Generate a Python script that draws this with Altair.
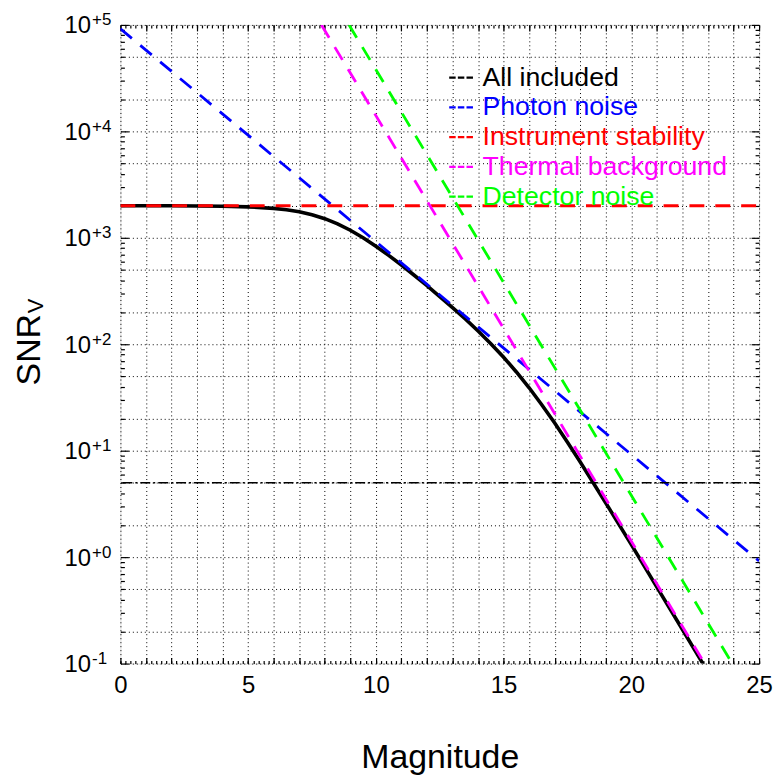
import json
import altair as alt
import pandas as pd

FONT = "Liberation Sans"

# ---------------- data ----------------
series_names = ["All included", "Photon noise", "Instrument stability",
                "Thermal background", "Detector noise"]
series_colors = ["#000000", "#0000ff", "#ff0000", "#ff00ff", "#00ff00"]

mag_all = [0, 2, 4, 5, 6, 6.5, 7, 7.5, 8, 8.5, 9, 9.5, 10, 10.5, 11, 11.5, 12,
           13, 13.5, 14, 14.5, 15, 15.5, 16, 16.5, 17, 17.5, 18, 19, 20, 21, 22, 22.8]
snr_all = [1999.5, 1997, 1982, 1954, 1891, 1835, 1755, 1648, 1512, 1352, 1178,
           1002, 834, 684, 555, 445, 355, 221, 173, 133, 101, 75.4, 54.9, 39.0,
           26.9, 18.2, 12.0, 7.83, 3.23, 1.31, 0.523, 0.209, 0.100]

mag_photon = [0, 25]
snr_photon = [92000, 0.92]
mag_stability = [0, 25]
snr_stability = [2000, 2000]
mag_thermal = [7.87, 22.87]
snr_thermal = [100000, 0.1]
mag_detector = [8.95, 23.95]
snr_detector = [100000, 0.1]

threshold = [5]

x_label_values = [0, 5, 10, 15, 20, 25]
x_grid_values = list(range(0, 26))
x_minor_values = [i / 5 for i in range(0, 126)]
y_decades = [0.1, 1, 10, 100, 1000, 10000, 100000]
y_sup_labels = ["-1", "+0", "+1", "+2", "+3", "+4", "+5"]
y_grid_values = [0.1, 0.2, 0.5, 1, 2, 5, 10, 20, 50, 100, 200, 500, 1000, 2000,
                 5000, 10000, 20000, 50000, 100000]
y_minor_values = [k * d for d in y_decades[:-1] for k in range(2, 10)]

# ---------------- tables ----------------
df_all = pd.DataFrame({"mag": mag_all, "snr": snr_all, "series": series_names[0]})
df_dash = pd.concat([
    pd.DataFrame({"mag": mag_photon, "snr": snr_photon, "series": series_names[1]}),
    pd.DataFrame({"mag": mag_stability, "snr": snr_stability, "series": series_names[2]}),
    pd.DataFrame({"mag": mag_thermal, "snr": snr_thermal, "series": series_names[3]}),
    pd.DataFrame({"mag": mag_detector, "snr": snr_detector, "series": series_names[4]}),
], ignore_index=True)
df_thr = pd.DataFrame({"snr": threshold})

xs = alt.Scale(domain=[0, 25], nice=False, zero=False)
ys = alt.Scale(type="log", domain=[0.1, 100000], nice=False)
cscale = alt.Scale(domain=series_names, range=series_colors)

label_color_expr = (f"{json.dumps(series_colors)}"
                    f"[indexof({json.dumps(series_names)}, datum.label)]")

legend = alt.Legend(
    title=None, orient="none", legendX=329, legendY=39,
    symbolType="stroke", symbolSize=625, symbolStrokeWidth=2.4,
    symbolDash=[6.5, 2.2], labelFontSize=26.8, labelFont=FONT,
    labelOffset=7, rowPadding=1.9, padding=0, labelLimit=500,
    labelColor={"expr": label_color_expr},
)

x_main = alt.Axis(
    orient="bottom", values=x_grid_values,
    labelExpr=f"indexof({json.dumps(x_label_values)}, datum.value) >= 0 ? datum.label : ''",
    grid=True, gridDash=[1, 3], gridColor="#000000", gridOpacity=1, gridWidth=1,
    ticks=False, domain=False, labelFontSize=24, labelFont=FONT, labelColor="black",
    labelPadding=10, labelFlush=False, labelOverlap=False,
    title="Magnitude", titleFont=FONT, titleFontSize=34, titleFontWeight="normal",
    titleColor="black", titlePadding=43,
)
y_main = alt.Axis(
    orient="left", values=y_grid_values,
    labelExpr=f"indexof({json.dumps(y_decades)}, datum.value) >= 0 ? '10' : ''",
    grid=True, gridDash=[1, 3], gridColor="#000000", gridOpacity=1, gridWidth=1,
    ticks=False, domain=False, labelFontSize=24, labelFont=FONT, labelColor="black",
    labelPadding=30, labelOffset=1, labelOverlap=False, labelBaseline="middle",
    title="SNR", titleFont=FONT, titleFontSize=34, titleFontWeight="normal",
    titleColor="black", titleAngle=270, titleX=-81, titleY=326,
    titleAlign="center", titleBaseline="alphabetic",
)
y_sup = alt.Axis(
    orient="left", values=y_decades,
    labelExpr=f"{json.dumps(y_sup_labels)}[indexof({json.dumps(y_decades)}, datum.value)]",
    grid=False, ticks=False, domain=False, labelFontSize=17, labelFont=FONT,
    labelColor="black", labelPadding=29, labelAlign="left", labelOffset=-5,
    labelOverlap=False, labelBaseline="middle",
    title="V", titleFont=FONT, titleFontSize=22, titleFontWeight="normal",
    titleColor="black", titleAngle=270, titleX=-78, titleY=282,
    titleAlign="center", titleBaseline="alphabetic",
)


def tick_axis(orient, values, size):
    return alt.Axis(orient=orient, values=values, tickSize=size, offset=-size,
                    labels=False, domain=False, grid=False, title=None,
                    ticks=True, tickColor="black", tickWidth=1.2)


def X(axis):
    return alt.X("mag:Q", scale=xs, axis=axis)


def Y(axis):
    return alt.Y("snr:Q", scale=ys, axis=axis)


black = alt.Chart(df_all).mark_line(strokeWidth=3.6, clip=True).encode(
    x=X(x_main), y=Y(y_main),
    color=alt.Color("series:N", scale=cscale, legend=legend),
)
dashed = alt.Chart(df_dash).mark_line(strokeWidth=2.8, strokeDash=[15, 11], clip=True).encode(
    x=X(None), y=Y(None),
    color=alt.Color("series:N", scale=cscale, legend=legend),
)
thr = alt.Chart(df_thr).mark_rule(color="black", strokeWidth=1.3,
                                  strokeDash=[10, 3, 2, 3]).encode(y=Y(None))

sup = alt.Chart(df_all).mark_point(opacity=0).encode(x=X(None), y=Y(y_sup))
t1 = alt.Chart(df_all).mark_point(opacity=0).encode(
    x=X(tick_axis("bottom", x_grid_values, 6)), y=Y(tick_axis("left", y_decades, 8)))
t2 = alt.Chart(df_all).mark_point(opacity=0).encode(
    x=X(tick_axis("bottom", x_minor_values, 3)), y=Y(tick_axis("left", y_minor_values, 4)))
t3 = alt.Chart(df_all).mark_point(opacity=0).encode(
    x=X(tick_axis("top", x_grid_values, 6)), y=Y(tick_axis("right", y_decades, 8)))
t4 = alt.Chart(df_all).mark_point(opacity=0).encode(
    x=X(tick_axis("top", x_minor_values, 3)), y=Y(tick_axis("right", y_minor_values, 4)))

chart = alt.layer(black, dashed, thr, sup, t1, t2, t3, t4).resolve_scale(
    x="shared", y="shared", color="shared"
).resolve_axis(
    x="independent", y="independent"
).properties(
    width=642, height=642,
    padding={"left": 5, "top": 1, "right": 0, "bottom": 0},
).configure_view(
    stroke="black", strokeWidth=2
).configure(font=FONT)

chart.save("out.html", embed_options={"renderer": "svg", "actions": False})
